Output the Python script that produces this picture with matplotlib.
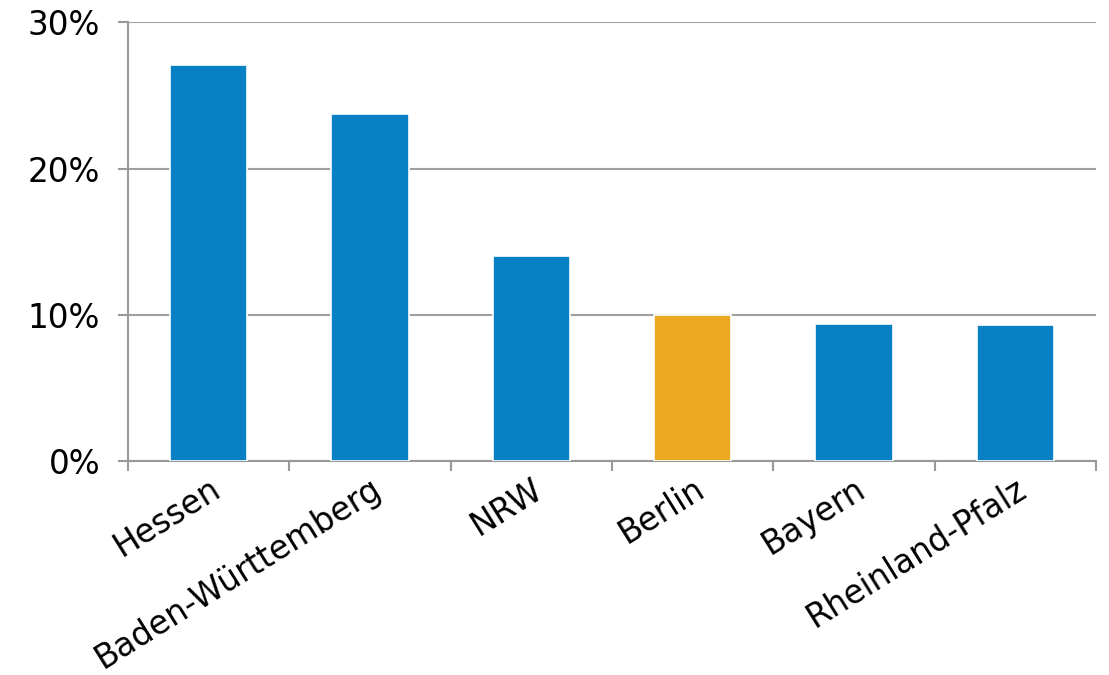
import matplotlib.pyplot as plt
import numpy as np

# Anteile je Bundesland
laender = ["Hessen", "Baden-Württemberg", "NRW", "Berlin", "Bayern", "Rheinland-Pfalz"]
anteile = [27.1, 23.7, 14.0, 10.0, 9.4, 9.3]
farben = ["#0780c4", "#0780c4", "#0780c4", "#eda823", "#0780c4", "#0780c4"]

plt.rcParams['font.family'] = ['DejaVu Sans']

fig = plt.figure(figsize=(11.09, 6.75), dpi=100)
ax = fig.add_axes([0.1154, 0.317, 0.8729, 0.65])

x = np.arange(len(laender))
ax.bar(x, anteile, width=0.48, color=farben, edgecolor="white", linewidth=1.2, zorder=3)

ax.set_xlim(-0.5, len(laender) - 0.5)
ax.set_ylim(0, 30)
ax.set_yticks([0, 10, 20, 30])
ax.set_yticklabels(["0%", "10%", "20%", "30%"], fontsize=23.5)
ax.yaxis.grid(True, color="#a0a0a0", linewidth=1.5, zorder=1)

# Teilstriche zwischen den Kategorien
ax.set_xticks(np.arange(-0.5, len(laender)), minor=False)
ax.set_xticklabels([])
ax.set_xticks(x, minor=True)
ax.set_xticklabels(laender, minor=True, rotation=32, ha="right",
                   rotation_mode="anchor", fontsize=23.5)
ax.tick_params(axis="x", which="minor", length=0, pad=8)
ax.tick_params(axis="x", which="major", length=7, width=1.5, color="#999999")
ax.tick_params(axis="y", length=7, width=1.5, color="#999999", pad=13)

for s in ["top", "right"]:
    ax.spines[s].set_visible(False)
for s in ["left", "bottom"]:
    ax.spines[s].set_color("#999999")
    ax.spines[s].set_linewidth(1.5)

fig.savefig("out.png", dpi=100)
